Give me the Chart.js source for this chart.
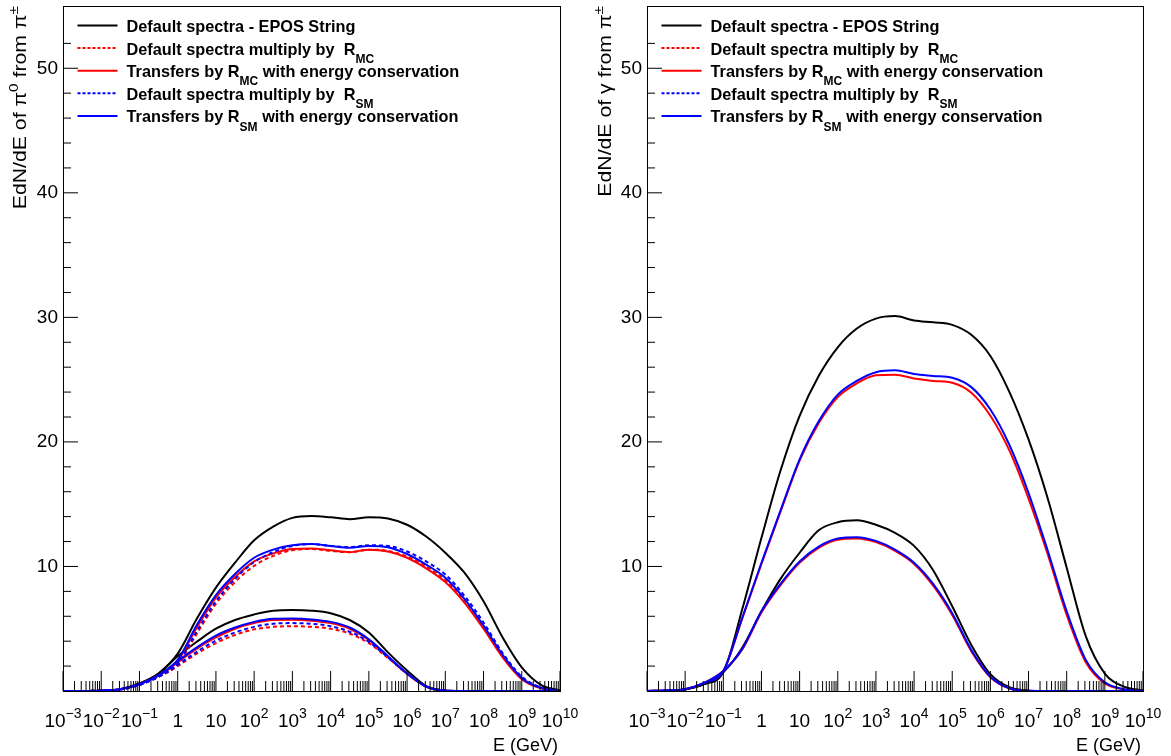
<!DOCTYPE html>
<html>
<head>
<meta charset="utf-8">
<script src="https://cdn.jsdelivr.net/npm/chart.js@4.4.1/dist/chart.umd.min.js"></script>
<style>
  html, body { margin: 0; padding: 0; background: #fff; }
  #wrap { position: relative; width: 1171px; height: 756px; overflow: hidden; }
  canvas { position: absolute; top: 0; display: block; }
</style>
</head>
<body>
<div id="wrap">
  <canvas id="pionChart" width="585" height="756" style="left:0"></canvas>
  <canvas id="gammaChart" width="586" height="756" style="left:585px"></canvas>
</div>
<script>
// ==============================
// DATA
// ==============================

// energy grid, half a decade apart (GeV)
const energyGeV = [
  1e-3, 3.16e-3, 1e-2, 3.16e-2, 0.1, 0.316, 1, 3.16, 10, 31.6, 100, 316, 1e3, 3.16e3,
  1e4, 3.16e4, 1e5, 3.16e5, 1e6, 3.16e6, 1e7, 3.16e7, 1e8, 3.16e8, 1e9, 3.16e9, 1e10,
];

// axis ticks
const xDecades = [-3, -2, -1, 0, 1, 2, 3, 4, 5, 6, 7, 8, 9, 10];
const xMinorSteps = [2, 3, 4, 5, 6, 7, 8, 9];
const yMajorEvery = 10;
const yStep = 2;

// left panel: pi0 from pi+-
const pionDefaultHigh  = [0, 0.005, 0.03, 0.15, 0.6, 1.4, 3.0, 5.8, 8.3, 10.3, 12.1, 13.2, 13.9, 14.05, 13.95, 13.8, 13.95, 13.85, 13.35, 12.4, 11.1, 9.5, 7.2, 4.3, 1.9, 0.5, 0.05];
const pionRmcScaledHigh = [0, 0.005, 0.03, 0.13, 0.5, 1.15, 2.1, 4.6, 7.0, 8.75, 10.05, 10.85, 11.3, 11.4, 11.25, 11.15, 11.35, 11.25, 10.8, 10.0, 8.9, 7.25, 5.15, 2.8, 1.0, 0.25, 0.02];
const pionRmcTransHigh = [0, 0.005, 0.03, 0.14, 0.55, 1.25, 2.4, 5.1, 7.5, 9.15, 10.4, 11.05, 11.4, 11.45, 11.3, 11.15, 11.35, 11.2, 10.7, 9.85, 8.75, 7.1, 5.0, 2.7, 0.95, 0.22, 0.02];
const pionRsmScaledHigh = [0, 0.005, 0.03, 0.13, 0.5, 1.15, 2.2, 4.8, 7.2, 9.0, 10.35, 11.15, 11.65, 11.8, 11.65, 11.55, 11.7, 11.65, 11.2, 10.4, 9.35, 7.65, 5.5, 3.05, 1.15, 0.3, 0.03];
const pionRsmTransHigh = [0, 0.005, 0.03, 0.14, 0.55, 1.25, 2.5, 5.3, 7.7, 9.4, 10.7, 11.35, 11.7, 11.8, 11.65, 11.5, 11.65, 11.55, 11.0, 10.15, 9.1, 7.4, 5.25, 2.9, 1.05, 0.25, 0.02];

const pionDefaultLow   = [0, 0.005, 0.03, 0.15, 0.6, 1.4, 2.8, 3.95, 5.0, 5.7, 6.15, 6.45, 6.5, 6.45, 6.25, 5.7, 4.7, 3.1, 1.65, 0.4, 0.04, 0, 0, 0, 0, 0, 0];
const pionRmcScaledLow = [0, 0.005, 0.03, 0.13, 0.5, 1.15, 2.0, 3.0, 3.85, 4.5, 4.95, 5.15, 5.2, 5.15, 5.0, 4.6, 3.85, 2.65, 1.38, 0.36, 0.04, 0, 0, 0, 0, 0, 0];
const pionRmcTransLow  = [0, 0.005, 0.03, 0.14, 0.55, 1.25, 2.3, 3.4, 4.3, 5.0, 5.45, 5.7, 5.72, 5.65, 5.45, 5.0, 4.1, 2.75, 1.38, 0.34, 0.03, 0, 0, 0, 0, 0, 0];
const pionRsmScaledLow = [0, 0.005, 0.03, 0.13, 0.5, 1.15, 2.1, 3.15, 4.05, 4.7, 5.15, 5.4, 5.45, 5.4, 5.2, 4.75, 3.95, 2.7, 1.4, 0.37, 0.04, 0, 0, 0, 0, 0, 0];
const pionRsmTransLow  = [0, 0.005, 0.03, 0.14, 0.55, 1.25, 2.4, 3.5, 4.45, 5.1, 5.55, 5.8, 5.82, 5.75, 5.55, 5.1, 4.15, 2.8, 1.4, 0.36, 0.03, 0, 0, 0, 0, 0, 0];

// right panel: gamma from pi+-
const gammaDefaultHigh = [0, 0.03, 0.12, 0.55, 1.5, 6.6, 12.3, 17.7, 22.1, 25.3, 27.6, 29.1, 29.9, 30.1, 29.75, 29.6, 29.4, 28.6, 26.9, 24.0, 20.2, 15.5, 9.9, 4.4, 1.4, 0.35, 0.04];
const gammaRmcTransHigh = [0, 0.04, 0.15, 0.65, 1.6, 5.85, 10.2, 14.4, 18.5, 21.5, 23.6, 24.7, 25.35, 25.4, 25.1, 24.9, 24.75, 23.95, 22.1, 19.3, 15.45, 11.0, 6.1, 2.3, 0.6, 0.12, 0.01];
const gammaRsmTransHigh = [0, 0.04, 0.15, 0.65, 1.6, 5.9, 10.3, 14.5, 18.6, 21.65, 23.8, 24.9, 25.6, 25.75, 25.45, 25.3, 25.15, 24.4, 22.6, 19.75, 15.9, 11.3, 6.4, 2.5, 0.7, 0.15, 0.02];

const gammaDefaultLow  = [0, 0.03, 0.12, 0.55, 1.5, 3.5, 6.4, 9.0, 11.1, 12.9, 13.55, 13.7, 13.35, 12.7, 11.65, 9.7, 6.8, 3.7, 1.35, 0.3, 0.03, 0, 0, 0, 0, 0, 0];
const gammaRmcTransLow = [0, 0.04, 0.15, 0.65, 1.6, 3.35, 6.3, 8.5, 10.3, 11.5, 12.15, 12.25, 11.95, 11.25, 10.2, 8.45, 6.1, 3.2, 1.1, 0.2, 0.02, 0, 0, 0, 0, 0, 0];
const gammaRsmTransLow = [0, 0.04, 0.15, 0.65, 1.6, 3.4, 6.4, 8.6, 10.4, 11.6, 12.25, 12.35, 12.05, 11.35, 10.3, 8.6, 6.25, 3.3, 1.15, 0.22, 0.02, 0, 0, 0, 0, 0, 0];

// legend text: [text, shift] with shift -1 = subscript
const legendTexts = [
  [["Default spectra - EPOS String", 0]],
  [["Default spectra multiply by  R", 0], ["MC", -1]],
  [["Transfers by R", 0], ["MC", -1], [" with energy conservation", 0]],
  [["Default spectra multiply by  R", 0], ["SM", -1]],
  [["Transfers by R", 0], ["SM", -1], [" with energy conservation", 0]],
];
const legendColors = ["#000000", "#ff0000", "#ff0000", "#0000ff", "#0000ff"];
const legendDashed = [false, true, false, true, false];

const FONT = '"Liberation Sans", Arial, Helvetica, sans-serif';
const DASH = [4, 3];

Chart.defaults.font.family = FONT;
Chart.defaults.color = "#000";

// ==============================
// RICH TEXT (super / subscripts)
// ==============================
function drawRich(ctx, parts, x, y, size, bold, align) {
  const fontFor = (s) => `${bold ? "bold " : ""}${s === 0 ? size : Math.round(size * 0.72)}px ${FONT}`;
  let total = 0;
  parts.forEach(([t, s]) => {
    ctx.font = fontFor(s);
    total += ctx.measureText(t).width;
  });
  let cx = align === "center" ? x - total / 2 : align === "right" ? x - total : x;
  ctx.textAlign = "left";
  ctx.textBaseline = "alphabetic";
  parts.forEach(([t, s]) => {
    ctx.font = fontFor(s);
    const dy = s > 0 ? -size * 0.47 : s < 0 ? size * 0.5 : 0;
    ctx.fillText(t, cx, y + dy);
    cx += ctx.measureText(t).width;
  });
}

function xTickParts(p) {
  if (p === 0) return [["1", 0]];
  if (p === 1) return [["10", 0]];
  return [["10", 0], [String(p).replace("-", "\u2212"), 1]];
}

// ==============================
// FRAME, TICKS, LEGEND, TITLES
// ==============================
const rootFrame = {
  id: "rootFrame",
  afterDatasetsDraw(chart, args, opts) {
    const { ctx, chartArea: a } = chart;
    const xs = chart.scales.x;
    const ys = chart.scales.y;
    ctx.save();
    ctx.fillStyle = "#000";
    ctx.strokeStyle = "#000";
    ctx.lineWidth = 1;
    ctx.setLineDash([]);

    // frame
    ctx.strokeRect(Math.round(a.left) + 0.5, Math.round(a.top) + 0.5,
      Math.round(a.right - a.left), Math.round(a.bottom - a.top));

    // x ticks drawn inside, upward
    const vTick = (px, len) => {
      ctx.beginPath();
      ctx.moveTo(px, a.bottom);
      ctx.lineTo(px, a.bottom - len);
      ctx.stroke();
    };
    xDecades.forEach((p) => {
      const base = Math.pow(10, p);
      vTick(xs.getPixelForValue(base), 20);
      if (p < xDecades[xDecades.length - 1]) {
        xMinorSteps.forEach((m) => vTick(xs.getPixelForValue(m * base), 10));
      }
      drawRich(ctx, xTickParts(p), xs.getPixelForValue(base), 727, 19, false, "center");
    });

    // y ticks drawn inside, to the right
    ys.ticks.forEach((t) => {
      if (t.value <= 0 || t.value % yStep !== 0) return;
      const py = ys.getPixelForValue(t.value);
      const len = t.value % yMajorEvery === 0 ? 15 : 8;
      ctx.beginPath();
      ctx.moveTo(a.left, py);
      ctx.lineTo(a.left + len, py);
      ctx.stroke();
    });

    // x title
    ctx.font = `18px ${FONT}`;
    ctx.textAlign = "right";
    ctx.textBaseline = "alphabetic";
    ctx.fillText("E (GeV)", a.right - 2, 751);

    // y title, rotated, flush with the top
    ctx.save();
    ctx.translate(26, a.top);
    ctx.rotate(-Math.PI / 2);
    ctx.scale(1.18, 1);
    drawRich(ctx, opts.yTitle, 0, 0, 18, false, "right");
    ctx.restore();

    // legend
    legendTexts.forEach((parts, i) => {
      const base = 32 + i * 22.6;
      const ly = base - 6.5;
      ctx.beginPath();
      ctx.strokeStyle = legendColors[i];
      ctx.lineWidth = 2;
      ctx.setLineDash(legendDashed[i] ? [3, 2] : []);
      ctx.moveTo(a.left + 14.5, ly);
      ctx.lineTo(a.left + 54.5, ly);
      ctx.stroke();
      ctx.setLineDash([]);
      ctx.fillStyle = "#000";
      drawRich(ctx, parts, a.left + 63.5, base, 16.3, true, "left");
    });

    ctx.restore();
  },
};

// ==============================
// CHART BUILDERS
// ==============================
function buildDatasets(series) {
  return series.map((s) => ({
    label: s.name,
    data: energyGeV.map((e, i) => ({ x: e, y: s.values[i] })),
    borderColor: s.color,
    borderWidth: 2,
    borderDash: s.dashed ? DASH : [],
    pointRadius: 0,
    cubicInterpolationMode: "monotone",
    fill: false,
    order: s.order,
  }));
}

function makeChart(canvasId, series, yTitle, axisWidth, padRight) {
  return new Chart(document.getElementById(canvasId), {
    type: "line",
    data: { datasets: buildDatasets(series) },
    options: {
      responsive: false,
      animation: false,
      events: [],
      layout: { padding: { top: 6, right: padRight, left: 0, bottom: 0 } },
      scales: {
        x: {
          type: "logarithmic",
          min: 1e-3,
          max: 1e10,
          grid: { display: false, drawTicks: false },
          border: { display: false },
          ticks: { display: false },
          afterFit: (s) => {
            s.height = 65;
            s.paddingLeft = 0;
            s.paddingRight = 0;
          },
        },
        y: {
          type: "linear",
          min: 0,
          max: 55,
          grid: { display: false, drawTicks: false },
          border: { display: false },
          ticks: {
            stepSize: yStep,
            autoSkip: false,
            padding: 5,
            font: { size: 19 },
            color: "#000",
            callback: (v) => (v > 0 && v % yMajorEvery === 0 ? String(v) : ""),
          },
          afterFit: (s) => {
            s.width = axisWidth;
            s.paddingTop = 0;
            s.paddingBottom = 0;
          },
        },
      },
      plugins: {
        legend: { display: false },
        tooltip: { enabled: false },
        rootFrame: { yTitle },
      },
    },
    plugins: [rootFrame],
  });
}

const pionSeries = [
  { name: "Default spectra - EPOS String", values: pionDefaultHigh, color: "#000", order: 6 },
  { name: "Default spectra - EPOS String", values: pionDefaultLow, color: "#000", order: 6 },
  { name: "Transfers by R_MC", values: pionRmcTransHigh, color: "#f00", order: 5 },
  { name: "Transfers by R_MC", values: pionRmcTransLow, color: "#f00", order: 5 },
  { name: "Default x R_MC", values: pionRmcScaledHigh, color: "#f00", dashed: true, order: 4 },
  { name: "Default x R_MC", values: pionRmcScaledLow, color: "#f00", dashed: true, order: 4 },
  { name: "Transfers by R_SM", values: pionRsmTransHigh, color: "#00f", order: 3 },
  { name: "Transfers by R_SM", values: pionRsmTransLow, color: "#00f", order: 3 },
  { name: "Default x R_SM", values: pionRsmScaledHigh, color: "#00f", dashed: true, order: 2 },
  { name: "Default x R_SM", values: pionRsmScaledLow, color: "#00f", dashed: true, order: 2 },
];

const gammaSeries = [
  { name: "Default spectra - EPOS String", values: gammaDefaultHigh, color: "#000", order: 6 },
  { name: "Default spectra - EPOS String", values: gammaDefaultLow, color: "#000", order: 6 },
  { name: "Transfers by R_MC", values: gammaRmcTransHigh, color: "#f00", order: 5 },
  { name: "Transfers by R_MC", values: gammaRmcTransLow, color: "#f00", order: 5 },
  { name: "Transfers by R_SM", values: gammaRsmTransHigh, color: "#00f", order: 3 },
  { name: "Transfers by R_SM", values: gammaRsmTransLow, color: "#00f", order: 3 },
];

makeChart("pionChart", pionSeries,
  [["EdN/dE of \u03c0", 0], ["0", 1], [" from \u03c0", 0], ["\u00b1", 1]], 63, 25);
makeChart("gammaChart", gammaSeries,
  [["EdN/dE of \u03b3 from \u03c0", 0], ["\u00b1", 1]], 62, 28);
</script>
</body>
</html>
